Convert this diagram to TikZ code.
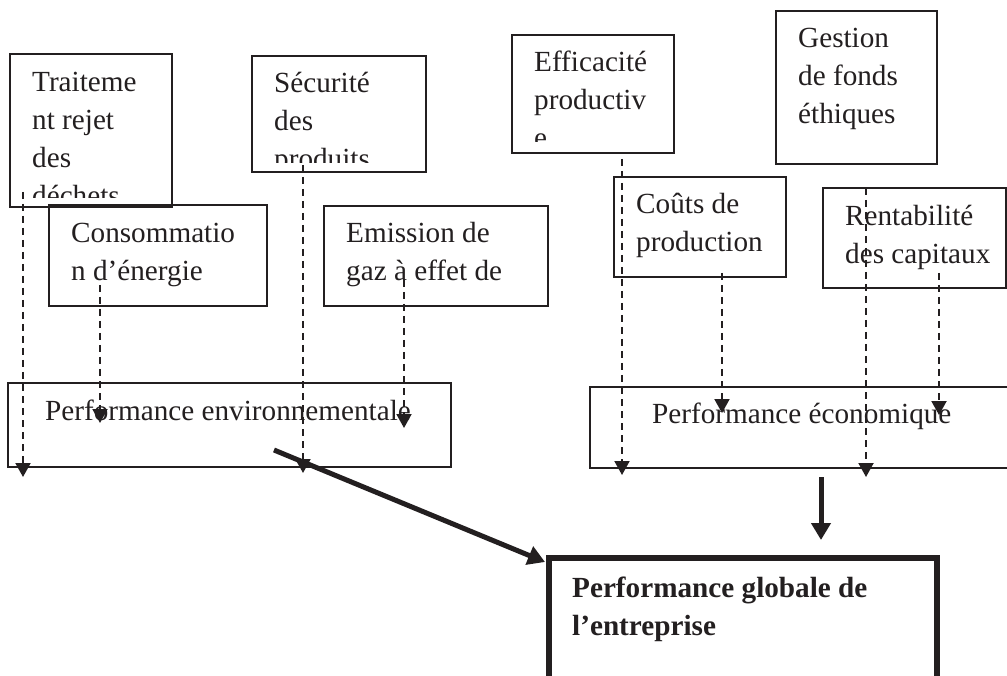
\documentclass[tikz,border=0pt]{standalone}
\usepackage{fontspec}
\setmainfont{Liberation Serif}
\usetikzlibrary{arrows.meta}
\definecolor{ink}{HTML}{231F20}
\begin{document}
\begin{tikzpicture}[x=1pt,y=1pt,
  box/.style={draw=ink, line width=1.4pt, inner sep=0pt, outer sep=0pt, anchor=north west},
  txt/.style={text=ink, inner sep=0pt, anchor=base west, font=\fontsize{29.2}{38}\selectfont},
  btxt/.style={txt, font=\fontsize{29.2}{38}\selectfont\bfseries},
  darr/.style={draw=ink, line width=2pt, dash pattern=on 7pt off 5pt, -{Triangle[width=15pt,length=14pt]}},
  tarr/.style={draw=ink, line width=5pt, -{Triangle[width=19pt,length=17pt]}},
]
\useasboundingbox (0,0) rectangle (1007,-676);
\fill[white] (0,0) rectangle (1007,-676);

% boxes
\node[box, minimum width=162pt, minimum height=153pt] (trait) at (10,-54) {};
\node[box, minimum width=174pt, minimum height=116pt] (secu) at (252,-56) {};
\node[box, minimum width=218pt, minimum height=101pt] (conso) at (49,-205) {};
\node[box, minimum width=224pt, minimum height=100pt] (emis) at (324,-206) {};
\node[box, minimum width=162pt, minimum height=118pt] (effi) at (512,-35) {};
\node[box, minimum width=161pt, minimum height=153pt] (gest) at (776,-11) {};
\node[box, minimum width=172pt, minimum height=100pt] (couts) at (614,-177) {};
\node[box, minimum width=183pt, minimum height=100pt] (rent) at (823,-188) {};
\node[box, minimum width=443pt, minimum height=84pt] (penv) at (8,-383) {};
\node[box, minimum width=430pt, minimum height=81pt] (peco) at (590,-387) {};
\node[box, line width=6pt, minimum width=388pt, minimum height=140pt] (glob) at (549,-558) {};

% texts (clipped like the text frames)
\begin{scope}
\clip (10,-54) rectangle (172,-198);
\node[txt] (traitT) at (32,-92) {\vtop{\hbox{Traiteme}\hbox{nt rejet}\hbox{des}\hbox{déchets}}};
\end{scope}
\begin{scope}
\clip (252,-56) rectangle (426,-163);
\node[txt] (secuT) at (274,-93) {\vtop{\hbox{Sécurité}\hbox{des}\hbox{produits}}};
\end{scope}
\node[txt] (consoT) at (71,-243) {\vtop{\hbox{Consommatio}\hbox{n d’énergie}}};
\node[txt] (emisT) at (346,-243) {\vtop{\hbox{Emission de}\hbox{gaz à effet de}}};
\begin{scope}
\clip (512,-35) rectangle (674,-142);
\node[txt] (effiT) at (534,-72) {\vtop{\hbox{Efficacité}\hbox{productiv}\hbox{e}}};
\end{scope}
\node[txt] (gestT) at (798,-48) {\vtop{\hbox{Gestion}\hbox{de fonds}\hbox{éthiques}}};
\node[txt] (coutsT) at (636,-214) {\vtop{\hbox{Coûts de}\hbox{production}}};
\node[txt] (rentT) at (845,-226) {\vtop{\hbox{Rentabilité}\hbox{des capitaux}}};
\node[txt] (penvT) at (45,-420) {Performance environnementale};
\node[txt] (pecoT) at (652,-423) {Performance économique};
\node[btxt] (globT) at (572,-597) {\vtop{\hbox{Performance globale de}\hbox{l’entreprise}}};

% dashed connectors
\coordinate (a1s) at (23,-192);  \coordinate (a1e) at (23,-477);
\coordinate (a2s) at (100,-285); \coordinate (a2e) at (100,-423);
\coordinate (a3s) at (303,-165); \coordinate (a3e) at (303,-473);
\coordinate (a4s) at (404,-280); \coordinate (a4e) at (404,-428);
\coordinate (a5s) at (622,-159); \coordinate (a5e) at (622,-475);
\coordinate (a6s) at (722,-273); \coordinate (a6e) at (722,-413);
\coordinate (a7s) at (866,-188); \coordinate (a7e) at (866,-477);
\coordinate (a8s) at (939,-273); \coordinate (a8e) at (939,-415);
\draw[darr] (a1s) -- (a1e);
\draw[darr] (a2s) -- (a2e);
\draw[darr] (a3s) -- (a3e);
\draw[darr] (a4s) -- (a4e);
\draw[darr] (a5s) -- (a5e);
\draw[darr] (a6s) -- (a6e);
\draw[darr] (a7s) -- (a7e);
\draw[darr] (a8s) -- (a8e);

% thick connectors
\coordinate (envout) at (274,-450);
\coordinate (globin1) at (545,-562);
\coordinate (ecoout) at (821,-477);
\coordinate (globin2) at (821,-540);
\draw[tarr] (envout) -- (globin1);
\draw[tarr] (ecoout) -- (globin2);
\end{tikzpicture}
\end{document}
